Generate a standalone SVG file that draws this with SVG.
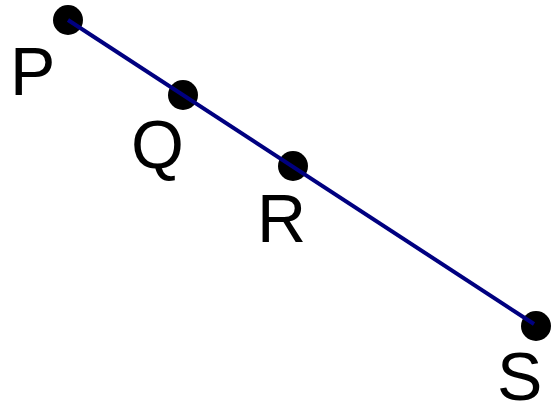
<svg xmlns="http://www.w3.org/2000/svg" width="553" height="404" viewBox="0 0 553 404">
<style>
.dot{fill:#000}
.lbl{font-family:"Liberation Sans",Arial,sans-serif;font-size:68px;fill:#000}
.ln{stroke:#000080;stroke-width:4;fill:none}
</style>
<rect width="553" height="404" fill="#fff"/>
<g id="P"><circle class="dot" cx="68" cy="20" r="15"/><text class="lbl" x="10" y="95">P</text></g>
<g id="Q"><circle class="dot" cx="183" cy="95" r="15"/><text class="lbl" x="131" y="168">Q</text></g>
<g id="R"><circle class="dot" cx="293" cy="166" r="15"/><text class="lbl" x="257" y="242">R</text></g>
<g id="S"><circle class="dot" cx="536" cy="326" r="15"/><text class="lbl" x="497" y="400">S</text></g>
<g id="connectors"><line class="ln" x1="68" y1="20" x2="534" y2="324"/></g>
</svg>
